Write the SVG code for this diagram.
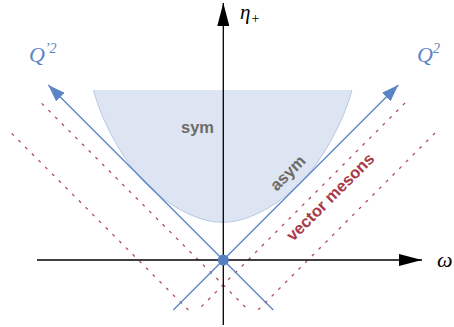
<svg xmlns="http://www.w3.org/2000/svg" width="454" height="327" viewBox="0 0 454 327">
<style>
.dot{stroke:#b5495b;stroke-width:1.3;stroke-dasharray:3 6.5;fill:none}
.bl{stroke:#5a84c6;stroke-width:1.3;fill:none}
.ax{stroke:#000;stroke-width:1.3;fill:none}
.math{font-family:"Liberation Serif",serif;font-style:italic}
.lab{font-family:"Liberation Sans",Arial,sans-serif;font-weight:bold;font-size:16.5px}
</style>
<defs>
<marker id="ab" markerUnits="userSpaceOnUse" markerWidth="17" markerHeight="12" viewBox="0 -6 17 12" refX="17" refY="0" orient="auto"><path d="M0,-6 L17,0 L0,6 Z" fill="#5a84c6"/></marker>
<marker id="ak" markerUnits="userSpaceOnUse" markerWidth="23" markerHeight="12" viewBox="0 -6 23 12" refX="23" refY="0" orient="auto"><path d="M0,-6 L23,0 L0,6 Z" fill="#000"/></marker>
</defs>
<g id="region">
<path d="M93.5,90 L351.9,90 C343.9,122 320.7,162.6 300.7,182.6 C280.2,203.1 250.2,222.3 222.7,222.3 C195.2,222.3 165.2,203.1 144.7,182.6 C124.7,162.6 101.5,122 93.5,90 Z" fill="#dde5f2"/>
<path d="M351.9,90 C343.9,122 320.7,162.6 300.7,182.6 C280.2,203.1 250.2,222.3 222.7,222.3 C195.2,222.3 165.2,203.1 144.7,182.6 C124.7,162.6 101.5,122 93.5,90" fill="none" stroke="#a7bce0" stroke-width="0.8"/>
</g>
<g id="connectors">
<line class="dot" x1="405" y1="103" x2="198" y2="310"/>
<line class="dot" x1="435" y1="133" x2="258" y2="310"/>
<line class="dot" x1="41.7" y1="103.4" x2="248.3" y2="310"/>
<line class="dot" x1="11.7" y1="133.4" x2="188.3" y2="310"/>
<line class="bl" x1="173.3" y1="310" x2="398.3" y2="85" marker-end="url(#ab)"/>
<line class="bl" x1="273.3" y1="310" x2="48.3" y2="85" marker-end="url(#ab)"/>
<line class="ax" x1="37" y1="260" x2="422" y2="260" marker-end="url(#ak)"/>
<line class="ax" x1="223.3" y1="325" x2="223.3" y2="3" marker-end="url(#ak)"/>
</g>
<g id="origin"><circle cx="223.3" cy="260" r="5.5" fill="#5580c0"/></g>
<g id="labels">
<text class="math" x="240" y="19" font-size="21">η<tspan font-style="normal" font-size="14" x="251.5" y="22.5">+</tspan></text>
<text class="math" x="437" y="267" font-size="22">ω</text>
<text class="math" x="29" y="62" font-size="22" fill="#5a84c6">Q<tspan font-size="14" dy="-9">’2</tspan></text>
<text class="math" x="417" y="62" font-size="22" fill="#5a84c6">Q<tspan font-size="14" dy="-9">2</tspan></text>
<text class="lab" x="197.5" y="132.5" text-anchor="middle" fill="#6e6a66">sym</text>
<text class="lab" text-anchor="middle" fill="#6e6a66" transform="translate(287.5,172.5) rotate(-45)" y="6">asym</text>
<text class="lab" text-anchor="middle" fill="#a83a4a" transform="translate(330,196.7) rotate(-45)" y="6">vector mesons</text>
</g>
</svg>
